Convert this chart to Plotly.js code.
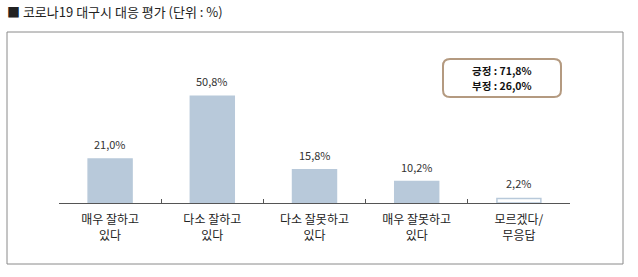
<!DOCTYPE html>
<html>
<head>
<meta charset="utf-8">
<script src="https://cdn.plot.ly/plotly-3.0.1.min.js"></script>
<style>
  html, body { margin: 0; padding: 0; background: #fff; }
  #chart { width: 638px; height: 277px; }
</style>
</head>
<body>
<div id="chart"></div>
<script>
// ---- data ----
const categories = ['매우 잘하고<br>있다', '다소 잘하고<br>있다', '다소 잘못하고<br>있다', '매우 잘못하고<br>있다', '모르겠다/<br>무응답'];
const values = [21.0, 50.8, 15.8, 10.2, 2.2];
const summaryLabels = ['긍정', '부정'];
const summaryValues = [71.8, 26.0];
const chartTitle = '■ 코로나19 대구시 대응 평가 (단위 : %)';

const fmt = v => v.toFixed(1).replace('.', ',') + '%';

const FONT = '"Noto Sans CJK KR", "Noto Sans", sans-serif';
const barFill = '#b8c9da';

const colors = values.map((v, i) => i === values.length - 1 ? '#ffffff' : barFill);

const trace = {
  type: 'bar',
  x: categories,
  y: values,
  marker: { color: colors, line: { color: barFill, width: 1.5 } },
  hoverinfo: 'none'
};

// pixel helpers for paper coords (plot area x 59..570, y 56..203)
const L = 59, R = 570, T = 56, B = 203;
const px = x => (x - L) / (R - L);
const py = y => (B - y) / (B - T);

function roundRect(x0, y0, x1, y1, r) {
  const rx = r / (R - L), ry = r / (B - T);
  const X0 = px(x0), X1 = px(x1), Y0 = py(y0), Y1 = py(y1);
  return `M ${X0 + rx},${Y0} L ${X1 - rx},${Y0} Q ${X1},${Y0} ${X1},${Y0 - ry} ` +
         `L ${X1},${Y1 + ry} Q ${X1},${Y1} ${X1 - rx},${Y1} ` +
         `L ${X0 + rx},${Y1} Q ${X0},${Y1} ${X0},${Y1 + ry} ` +
         `L ${X0},${Y0 - ry} Q ${X0},${Y0} ${X0 + rx},${Y0} Z`;
}

const valueAnnotations = values.map((v, i) => ({
  x: categories[i], y: v, xref: 'x', yref: 'y',
  text: fmt(v), showarrow: false, yanchor: 'bottom', yshift: 5,
  font: { family: FONT, size: 11, color: '#333' }
}));

const summaryAnnotations = summaryLabels.map((l, i) => ({
  xref: 'paper', yref: 'paper', x: px(502), y: py(70 + i * 15),
  xanchor: 'center', yanchor: 'middle', showarrow: false, borderpad: 0,
  text: `<b>${l} : ${fmt(summaryValues[i])}</b>`,
  font: { family: FONT, size: 10.5, color: '#111' }
}));

const layout = {
  width: 638, height: 277,
  margin: { l: L, r: 638 - R, t: T, b: 277 - B },
  paper_bgcolor: '#fff', plot_bgcolor: '#fff',
  showlegend: false,
  bargap: 0.57,
  font: { family: FONT, size: 12, color: '#222' },
  xaxis: {
    type: 'category',
    showgrid: false, zeroline: false,
    showline: true, linecolor: '#555', linewidth: 1,
    ticks: 'inside', tickson: 'boundaries', ticklen: 4, tickcolor: '#555',
    ticklabelstandoff: 6,
    tickfont: { family: FONT, size: 12, color: '#222' },
    fixedrange: true
  },
  yaxis: {
    range: [0, 70], visible: false, fixedrange: true
  },
  shapes: [
    { type: 'rect', xref: 'paper', yref: 'paper',
      x0: px(7), x1: px(623), y0: py(264), y1: py(32),
      line: { color: '#8a8a8a', width: 1 }, fillcolor: 'rgba(0,0,0,0)', layer: 'below' },
    { type: 'path', xref: 'paper', yref: 'paper',
      path: roundRect(443, 59, 561, 97, 7),
      line: { color: '#b49a80', width: 2 }, fillcolor: '#fff' }
  ],
  annotations: valueAnnotations.concat(summaryAnnotations, [
    { xref: 'paper', yref: 'paper', x: px(5), y: py(11),
      xanchor: 'left', yanchor: 'middle', showarrow: false, align: 'left',
      text: chartTitle, font: { family: FONT, size: 13, color: '#222' } }
  ])
};

Plotly.newPlot('chart', [trace], layout, { displayModeBar: false, staticPlot: true });
</script>
</body>
</html>
